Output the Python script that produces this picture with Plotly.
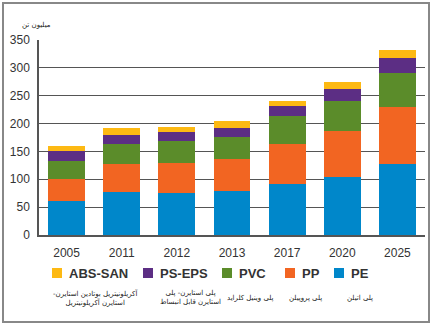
import plotly.graph_objects as go

years = ["2005", "2011", "2012", "2013", "2017", "2020", "2025"]
pe = [61, 78, 76, 79, 91, 105, 127]
pp = [39, 50, 54, 57, 72, 82, 102]
pvc = [33, 36, 38, 40, 50, 53, 62]
ps_eps = [17, 16, 16, 16, 18, 22, 26]
abs_san = [9, 12, 10, 12, 9, 13, 15]

series_names = ["PE", "PP", "PVC", "PS-EPS", "ABS-SAN"]
series_values = [pe, pp, pvc, ps_eps, abs_san]
series_colors = ["#0087CA", "#F26522", "#5B8C2A", "#5C2E84", "#FDB913"]
persian_names = [
    ["پلی اتیلن"],
    ["پلی پروپیلن"],
    ["پلی وینیل کلراید"],
    ["پلی استایرن- پلی", "استایرن قابل انبساط"],
    ["آکریلونیتریل بوتادین استایرن-", "استایرن آکریلونیتریل"],
]
y_unit = "میلیون تن"

RLM = "\u200f"


def rtl(s):
    return RLM + s + RLM


W_PX, H_PX = 436, 330
L, T, PW, PH = 39, 40, 386, 195


def px(x):
    return (x - L) / PW


def py(y):
    return (T + PH - y) / PH


fig = go.Figure()
for name, vals, col in zip(series_names, series_values, series_colors):
    fig.add_trace(go.Bar(x=years, y=vals, name=name, marker_color=col,
                         marker_line_width=0, showlegend=False))

fig.update_layout(
    width=W_PX, height=H_PX, barmode="stack", bargap=0.33,
    margin=dict(l=L, r=W_PX - L - PW, t=T, b=H_PX - T - PH),
    paper_bgcolor="white", plot_bgcolor="white",
    font=dict(family="Liberation Sans, Arial, sans-serif", size=12, color="#333"),
)
fig.update_xaxes(type="category", showline=True, linecolor="#555", linewidth=1.5,
                 ticks="", ticklabelstandoff=6, tickfont=dict(size=12, color="#333"))
fig.update_yaxes(range=[0, 350], dtick=50, showgrid=True, gridcolor="#555", gridwidth=1.3,
                 showline=True, linecolor="#555", linewidth=1.5, zeroline=False,
                 ticks="", ticklabelstandoff=5, tickfont=dict(size=12, color="#333"))

shapes = []
annotations = []
# outer frame
shapes.append(dict(type="rect", xref="paper", yref="paper", x0=px(3), x1=px(429),
                   y0=py(322), y1=py(3), line=dict(color="#888", width=2), layer="below"))
annotations.append(dict(text=rtl(y_unit), xref="paper", yref="paper", x=px(20), y=py(19.5),
                        showarrow=False, font=dict(family="DejaVu Sans", size=7, color="#222")))

# manual legend (reversed order)
legend_sq_x = [52, 143, 222, 285, 334]
persian_cx = [95, 190, 251, 305, 360]
for i, idx in enumerate([4, 3, 2, 1, 0]):
    x0 = legend_sq_x[i]
    shapes.append(dict(type="rect", xref="paper", yref="paper", x0=px(x0), x1=px(x0 + 10),
                       y0=py(278), y1=py(268), fillcolor=series_colors[idx], line_width=0))
    annotations.append(dict(text="<b>" + series_names[idx] + "</b>", xref="paper", yref="paper",
                            x=px(x0 + 15), y=py(273.5), xanchor="left", yanchor="middle",
                            showarrow=False, font=dict(size=13, color="#333")))
    text = "<br>".join(rtl(line) for line in persian_names[idx])
    annotations.append(dict(text=text, xref="paper", yref="paper",
                            x=px(persian_cx[i]), y=py(297.5), xanchor="center", yanchor="middle",
                            showarrow=False, align="center",
                            font=dict(family="DejaVu Sans", size=7, color="#222")))

fig.update_layout(shapes=shapes, annotations=annotations)
fig.write_html("out.html")
